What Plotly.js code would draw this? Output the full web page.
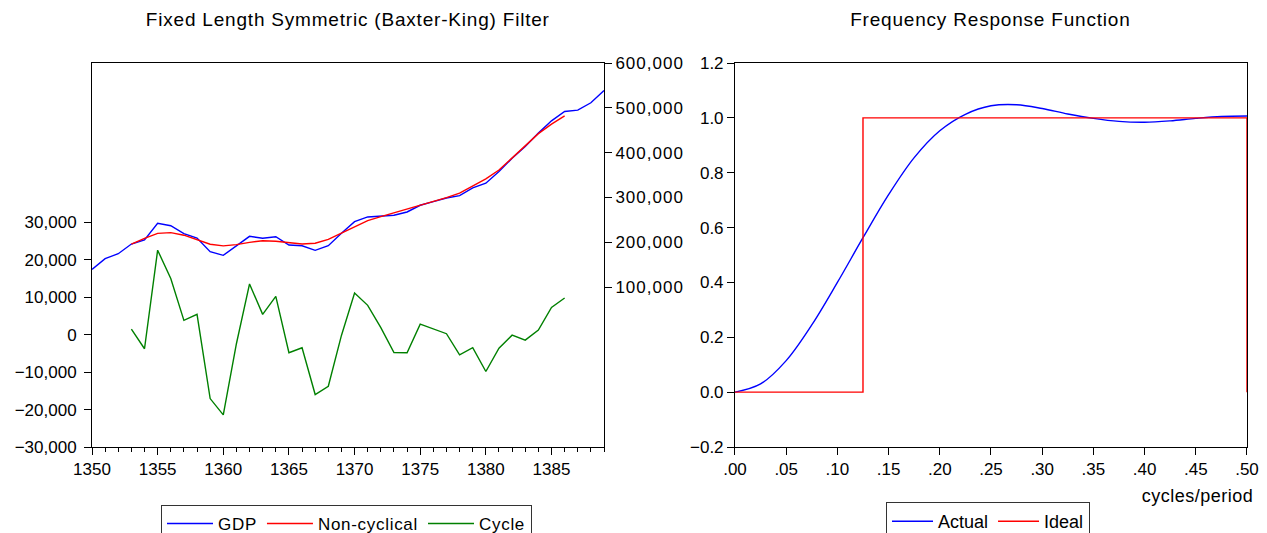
<!DOCTYPE html>
<html><head><meta charset="utf-8">
<script src="https://cdn.plot.ly/plotly-3.0.1.min.js"></script>
<style>
body{margin:0;background:#fff;}
.annotation[data-index="0"] text,.annotation[data-index="1"] text{letter-spacing:0.8px;}
.annotation[data-index="2"] text{letter-spacing:0.5px;}
.y2tick text{letter-spacing:1px;}
.legendtext{letter-spacing:0.7px;}
</style></head>
<body><div id="chart" style="width:1267px;height:533px;"></div>
<script>
// ---- Left chart data ----
const years = [1350,1351,1352,1353,1354,1355,1356,1357,1358,1359,1360,1361,1362,1363,1364,1365,1366,1367,1368,1369,
               1370,1371,1372,1373,1374,1375,1376,1377,1378,1379,1380,1381,1382,1383,1384,1385,1386,1387,1388,1389];
const gdp = [139500,163200,174300,196000,205000,242300,236900,219000,209400,178800,170800,192200,213200,208800,212300,193800,192200,181900,192200,219900,
             245900,256400,258600,260200,267500,282500,290600,298800,304000,321200,331700,357600,387600,413500,443500,470900,491700,494900,511200,538700];
const filterYears = [1353,1354,1355,1356,1357,1358,1359,1360,1361,1362,1363,1364,1365,1366,1367,1368,1369,
                     1370,1371,1372,1373,1374,1375,1376,1377,1378,1379,1380,1381,1382,1383,1384,1385,1386];
const nonCyclical = [196000,208800,219700,221500,215700,205500,195600,191800,194600,199700,203400,202300,198800,196200,197700,206200,220100,
                     234800,248400,257000,265500,273500,281000,290000,299500,309400,324700,341500,361200,387700,415000,442300,463600,481900];
const cycle = [1500,-3750,22580,15000,3830,5440,-17060,-21430,-2410,13560,5440,10260,-4820,-3480,-15990,-13770,-190,
               11140,7850,1880,-4740,-4820,2840,1610,270,-5360,-3480,-9830,-3590,-110,-1450,1230,7310,9800];
const yearTicks = [1350,1355,1360,1365,1370,1375,1380,1385];
const leftYTicks = [-30000,-20000,-10000,0,10000,20000,30000];
const rightYTicks = [100000,200000,300000,400000,500000,600000];

// ---- Right chart data ----
const freq = [0,0.025,0.05,0.075,0.1,0.125,0.15,0.175,0.2,0.225,0.25,0.275,0.3,0.325,0.35,0.375,0.4,0.425,0.45,0.475,0.5];
const actual = [0,0.03,0.115,0.245,0.40,0.563,0.72,0.855,0.953,1.013,1.044,1.048,1.034,1.014,0.998,0.987,0.984,0.989,0.998,1.005,1.007];
const idealFreq = [0,0.125,0.125,0.5,0.5];
const ideal = [0,0,1,1,0];
const freqTicks = [0,0.05,0.1,0.15,0.2,0.25,0.3,0.35,0.4,0.45,0.5];
const freqTickText = ['.00','.05','.10','.15','.20','.25','.30','.35','.40','.45','.50'];
const respTicks = [-0.2,0,0.2,0.4,0.6,0.8,1.0,1.2];

const FONT = 'Liberation Sans, Arial, sans-serif';
const TF = {family: FONT, size: 17, color: '#000'};

const traces = [
  {x: years, y: gdp, type: 'scatter', mode: 'lines', name: 'GDP', xaxis: 'x', yaxis: 'y2',
   line: {color: '#0000ff', width: 1.4}, legend: 'legend'},
  {x: filterYears, y: nonCyclical, type: 'scatter', mode: 'lines', name: 'Non-cyclical', xaxis: 'x', yaxis: 'y2',
   line: {color: '#ff0000', width: 1.4}, legend: 'legend'},
  {x: filterYears, y: cycle, type: 'scatter', mode: 'lines', name: 'Cycle', xaxis: 'x', yaxis: 'y',
   line: {color: '#008000', width: 1.4}, legend: 'legend'},
  {x: freq, y: actual, type: 'scatter', mode: 'lines', name: 'Actual', xaxis: 'x2', yaxis: 'y3',
   line: {color: '#0000ff', width: 1.4, shape: 'spline', smoothing: 1}, legend: 'legend2'},
  {x: idealFreq, y: ideal, type: 'scatter', mode: 'lines', name: 'Ideal', xaxis: 'x2', yaxis: 'y3',
   line: {color: '#ff0000', width: 1.4}, legend: 'legend2'}
];

const axCommon = {showgrid: false, zeroline: false, showline: true, linecolor: '#000', linewidth: 1,
  ticks: 'outside', ticklen: 7, tickcolor: '#000', tickwidth: 1, tickfont: TF};

const layout = {
  width: 1267, height: 533,
  margin: {l: 92, r: 20, t: 63, b: 86},
  paper_bgcolor: '#fff', plot_bgcolor: '#fff',
  font: TF,
  xaxis: Object.assign({}, axCommon, {domain: [0, 0.4433], range: [1350, 1389], anchor: 'y',
    tickmode: 'array', tickvals: yearTicks, mirror: true,
    minor: {tick0: 1350, dtick: 1, ticks: 'outside', ticklen: 4, tickcolor: '#000'}}),
  yaxis: Object.assign({}, axCommon, {domain: [0, 1], range: [-30000, 72600], anchor: 'x',
    tickmode: 'array', tickvals: leftYTicks, tickformat: ',d', ticklabelstandoff: 4}),
  yaxis2: Object.assign({}, axCommon, {overlaying: 'y', side: 'right', anchor: 'x',
    range: [-257000, 600000], tickmode: 'array', tickvals: rightYTicks, tickformat: ',d'}),
  xaxis2: Object.assign({}, axCommon, {domain: [0.5567, 1], range: [0, 0.5], anchor: 'y3',
    tickmode: 'array', tickvals: freqTicks, ticktext: freqTickText, mirror: true}),
  yaxis3: Object.assign({}, axCommon, {domain: [0, 1], range: [-0.2, 1.2], anchor: 'x2',
    tickmode: 'array', tickvals: respTicks, tickformat: '.1f', mirror: true}),
  legend: {orientation: 'h', xref: 'container', yref: 'container', x: 161/1267, y: 1 - 505/533,
    xanchor: 'left', yanchor: 'top', bgcolor: '#fff', bordercolor: '#333', borderwidth: 1,
    font: TF, itemwidth: 46, traceorder: 'normal'},
  legend2: {orientation: 'h', xref: 'container', yref: 'container', x: 886/1267, y: 1 - 502/533,
    xanchor: 'left', yanchor: 'top', bgcolor: '#fff', bordercolor: '#333', borderwidth: 1,
    font: {family: FONT, size: 18, color: '#000'}, itemwidth: 41, traceorder: 'normal'},
  showlegend: true,
  annotations: [
    {text: 'Fixed Length Symmetric (Baxter-King) Filter', xref: 'x domain', yref: 'paper',
     x: 0.5, y: 1 + 44/384, xanchor: 'center', yanchor: 'middle', showarrow: false,
     font: {family: FONT, size: 19, color: '#000'}},
    {text: 'Frequency Response Function', xref: 'x2 domain', yref: 'paper',
     x: 0.5, y: 1 + 44/384, xanchor: 'center', yanchor: 'middle', showarrow: false,
     font: {family: FONT, size: 19, color: '#000'}},
    {text: 'cycles/period', xref: 'paper', yref: 'paper', x: (1252 - 92)/1155, y: -49/384,
     xanchor: 'right', yanchor: 'middle', showarrow: false,
     font: {family: FONT, size: 18, color: '#000'}}
  ]
};

Plotly.newPlot('chart', traces, layout, {displayModeBar: false, staticPlot: true});
</script>
</body></html>
